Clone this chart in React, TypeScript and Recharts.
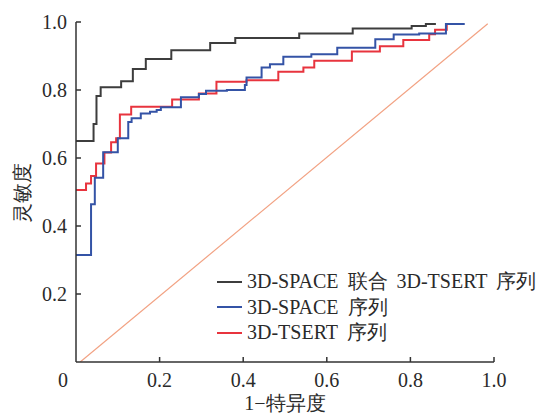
import React from "react";
import { LineChart, Line, XAxis, YAxis } from "recharts";

// ROC curve points: x = 1-specificity where the step occurs, y = sensitivity after the step
const combinedRoc = [
  { x: 0, y: 0.65 }, { x: 0.042, y: 0.7 }, { x: 0.049, y: 0.782 }, { x: 0.059, y: 0.808 },
  { x: 0.108, y: 0.826 }, { x: 0.136, y: 0.862 }, { x: 0.167, y: 0.891 }, { x: 0.228, y: 0.917 },
  { x: 0.321, y: 0.938 }, { x: 0.381, y: 0.953 }, { x: 0.534, y: 0.966 }, { x: 0.662, y: 0.981 },
  { x: 0.803, y: 0.988 }, { x: 0.837, y: 0.994 }, { x: 0.861, y: 0.994 },
];

const spaceRoc = [
  { x: 0, y: 0.315 }, { x: 0.036, y: 0.464 }, { x: 0.045, y: 0.542 }, { x: 0.065, y: 0.617 },
  { x: 0.1, y: 0.658 }, { x: 0.125, y: 0.706 }, { x: 0.133, y: 0.717 }, { x: 0.155, y: 0.731 },
  { x: 0.177, y: 0.736 }, { x: 0.193, y: 0.741 }, { x: 0.203, y: 0.749 }, { x: 0.251, y: 0.779 },
  { x: 0.294, y: 0.788 }, { x: 0.311, y: 0.798 }, { x: 0.361, y: 0.8 }, { x: 0.404, y: 0.815 },
  { x: 0.408, y: 0.837 }, { x: 0.444, y: 0.866 }, { x: 0.464, y: 0.876 }, { x: 0.496, y: 0.898 },
  { x: 0.563, y: 0.905 }, { x: 0.625, y: 0.924 }, { x: 0.716, y: 0.949 }, { x: 0.76, y: 0.963 },
  { x: 0.821, y: 0.966 }, { x: 0.885, y: 0.994 }, { x: 0.93, y: 0.994 },
];

const tsertRoc = [
  { x: 0, y: 0.506 }, { x: 0.024, y: 0.525 }, { x: 0.036, y: 0.547 }, { x: 0.048, y: 0.584 },
  { x: 0.068, y: 0.616 }, { x: 0.084, y: 0.646 }, { x: 0.096, y: 0.658 }, { x: 0.105, y: 0.728 },
  { x: 0.132, y: 0.751 }, { x: 0.23, y: 0.772 }, { x: 0.294, y: 0.79 }, { x: 0.336, y: 0.824 },
  { x: 0.408, y: 0.829 }, { x: 0.484, y: 0.854 }, { x: 0.544, y: 0.866 }, { x: 0.57, y: 0.886 },
  { x: 0.66, y: 0.913 }, { x: 0.727, y: 0.929 }, { x: 0.783, y: 0.947 }, { x: 0.845, y: 0.964 },
  { x: 0.859, y: 0.977 }, { x: 0.887, y: 0.994 }, { x: 0.895, y: 0.994 },
];

const referenceLine = [
  { x: 0.01, y: 0 },
  { x: 0.985, y: 0.995 },
];

const xTicks = [0, 0.2, 0.4, 0.6, 0.8, 1.0];
const xTickLabels = ["0", "0.2", "0.4", "0.6", "0.8", "1.0"];
const yTicks = [0.2, 0.4, 0.6, 0.8, 1.0];
const yTickLabels = ["0.2", "0.4", "0.6", "0.8", "1.0"];

const seriesNames = ["3D-SPACE 联合 3D-TSERT 序列", "3D-SPACE 序列", "3D-TSERT 序列"];
const seriesColors = ["#3d3d3d", "#3453a6", "#e8343e"];
const xTitle = "1−特异度";
const yTitle = "灵敏度";

const FONT = "'Liberation Serif', 'DejaVu Serif', serif";
const AXIS = "#333333";

const XTick = (props: any) => {
  const { x, y, payload } = props;
  const i = xTicks.indexOf(payload.value);
  const label = i >= 0 ? xTickLabels[i] : String(payload.value);
  const tx = payload.value === 0 ? x - 13 : x;
  return (
    <g>
      {payload.value !== 0 && (
        <line x1={x} y1={y} x2={x} y2={y - 5} stroke={AXIS} strokeWidth={1.5} />
      )}
      <text x={tx} y={y + 25} textAnchor="middle" fontFamily={FONT} fontSize={20} fill="#2a2a2a">
        {label}
      </text>
    </g>
  );
};

const YTick = (props: any) => {
  const { x, y, payload } = props;
  const i = yTicks.indexOf(payload.value);
  const label = i >= 0 ? yTickLabels[i] : String(payload.value);
  return (
    <g>
      <line x1={x} y1={y} x2={x + 5} y2={y} stroke={AXIS} strokeWidth={1.5} />
      <text x={x - 9} y={y + 7} textAnchor="end" fontFamily={FONT} fontSize={20} fill="#2a2a2a">
        {label}
      </text>
    </g>
  );
};

const XTitle = (props: any) => {
  const vb = props.viewBox;
  return (
    <text
      x={vb.x + vb.width / 2}
      y={vb.y + 48}
      textAnchor="middle"
      fontFamily={FONT}
      fontSize={20}
      fill="#2a2a2a"
    >
      {xTitle}
    </text>
  );
};

const YTitle = (props: any) => {
  const vb = props.viewBox;
  const cx = vb.x + 6;
  const cy = vb.y + vb.height / 2 + 1;
  return (
    <text
      x={cx}
      y={cy}
      transform={`rotate(-90 ${cx} ${cy})`}
      textAnchor="middle"
      dominantBaseline="central"
      fontFamily={FONT}
      fontSize={20}
      fill="#2a2a2a"
    >
      {yTitle}
    </text>
  );
};

export default function App() {
  return (
    <div style={{ position: "absolute", left: 0, top: 0, width: 541, height: 414, background: "#fff" }}>
      <LineChart
        width={541}
        height={414}
        margin={{ top: 22, right: 47, left: 16, bottom: 22 }}
      >
        <XAxis
          type="number"
          dataKey="x"
          domain={[0, 1]}
          ticks={xTicks}
          allowDataOverflow
          height={30}
          tickSize={0}
          tickMargin={0}
          tickLine={false}
          tick={<XTick />}
          axisLine={{ stroke: AXIS, strokeWidth: 1.5 }}
          label={{ content: <XTitle /> }}
        />
        <YAxis
          type="number"
          dataKey="y"
          domain={[0, 1]}
          ticks={yTicks}
          allowDataOverflow
          width={60}
          tickSize={0}
          tickMargin={0}
          tickLine={false}
          tick={<YTick />}
          axisLine={{ stroke: AXIS, strokeWidth: 1.5 }}
          label={{ content: <YTitle /> }}
        />
        <Line
          data={referenceLine}
          dataKey="y"
          type="linear"
          stroke="#f2a283"
          strokeWidth={1.2}
          dot={false}
          isAnimationActive={false}
        />
        <Line
          data={tsertRoc}
          dataKey="y"
          type="stepAfter"
          stroke={seriesColors[2]}
          strokeWidth={2}
          dot={false}
          isAnimationActive={false}
        />
        <Line
          data={spaceRoc}
          dataKey="y"
          type="stepAfter"
          stroke={seriesColors[1]}
          strokeWidth={2}
          dot={false}
          isAnimationActive={false}
        />
        <Line
          data={combinedRoc}
          dataKey="y"
          type="stepAfter"
          stroke={seriesColors[0]}
          strokeWidth={2}
          dot={false}
          isAnimationActive={false}
        />
      </LineChart>
      <div
        style={{
          position: "absolute",
          left: 217,
          top: 269,
          fontFamily: FONT,
          fontSize: 20,
          color: "#2a2a2a",
          whiteSpace: "nowrap",
          wordSpacing: 4,
        }}
      >
        {seriesNames.map((name, i) => (
          <div key={name} style={{ display: "flex", alignItems: "center", height: 25.5 }}>
            <span
              style={{
                display: "inline-block",
                width: 25,
                height: 2,
                background: seriesColors[i],
                marginRight: 5,
              }}
            />
            <span>{name}</span>
          </div>
        ))}
      </div>
    </div>
  );
}
